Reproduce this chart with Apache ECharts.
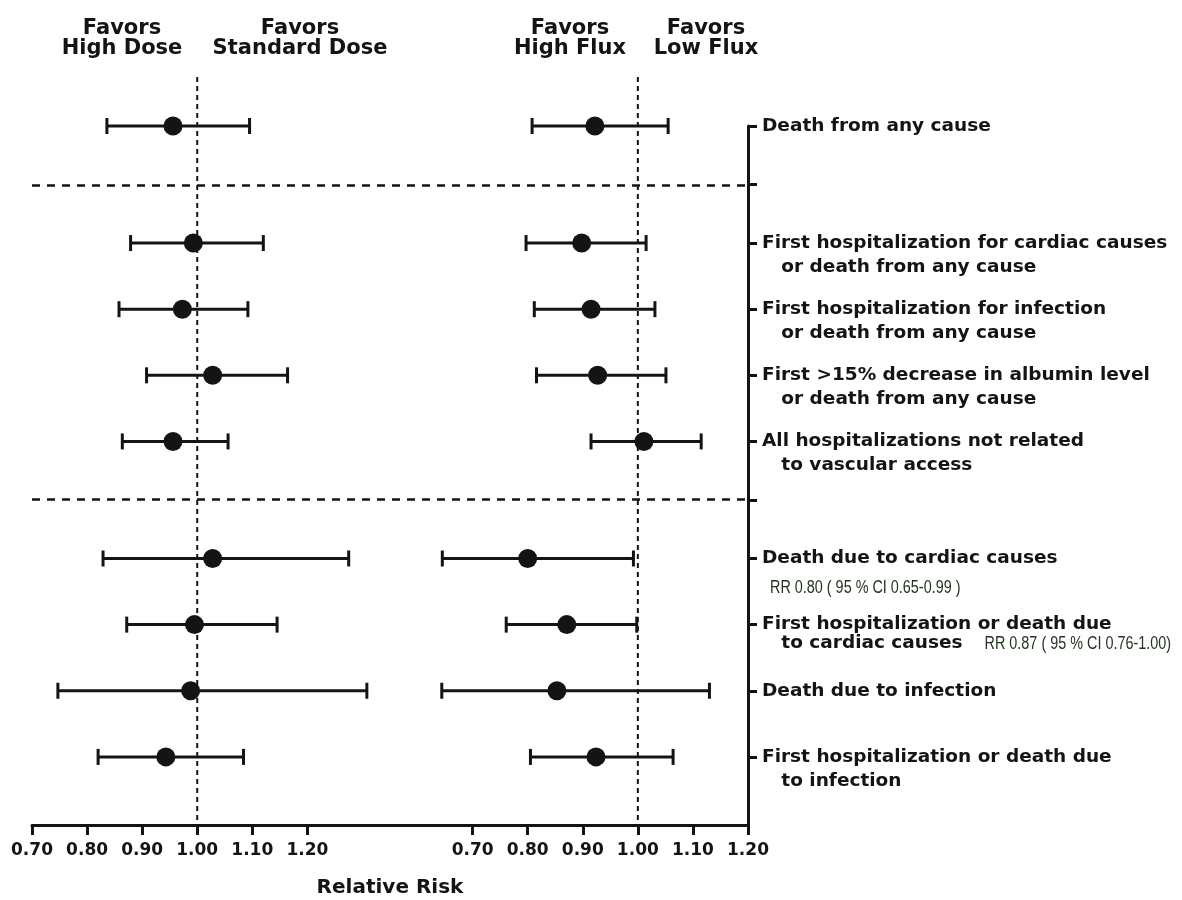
<!DOCTYPE html>
<html>
<head>
<meta charset="utf-8">
<title>Relative risk forest plot</title>
<script src="https://cdn.jsdelivr.net/npm/echarts@6/dist/echarts.min.js"></script>
<style>
  html, body { margin: 0; padding: 0; background: #fff; }
  #chart { width: 1182px; height: 900px; }
</style>
</head>
<body>
<div id="chart"></div>
<script>
// outcomes, top to bottom
const outcomes = [
  'Death from any cause',
  'First hospitalization for cardiac causes\nor death from any cause',
  'First hospitalization for infection\nor death from any cause',
  'First >15% decrease in albumin level\nor death from any cause',
  'All hospitalizations not related\nto vascular access',
  'Death due to cardiac causes',
  'First hospitalization or death due\nto cardiac causes',
  'Death due to infection',
  'First hospitalization or death due\nto infection'
];
const outcomeGroup = [0, 1, 1, 1, 1, 2, 2, 2, 2];
const rrNotes = ['', '', '', '', '', 'RR 0.80 ( 95 % CI 0.65-0.99 )', 'RR 0.87 ( 95 % CI 0.76-1.00)', '', ''];

// high dose vs standard dose
const doseRR   = [0.956, 0.993, 0.973, 1.028, 0.956, 1.028, 0.995, 0.988, 0.943];
const doseLow  = [0.836, 0.879, 0.858, 0.908, 0.864, 0.829, 0.872, 0.747, 0.820];
const doseHigh = [1.095, 1.120, 1.092, 1.164, 1.056, 1.275, 1.145, 1.308, 1.084];

// high flux vs low flux
const fluxRR   = [0.922, 0.898, 0.915, 0.927, 1.011, 0.800, 0.871, 0.853, 0.924];
const fluxLow  = [0.808, 0.797, 0.812, 0.816, 0.915, 0.645, 0.761, 0.644, 0.805];
const fluxHigh = [1.055, 1.015, 1.031, 1.051, 1.115, 0.992, 0.998, 1.130, 1.064];

const xTicks = [0.7, 0.8, 0.9, 1.0, 1.1, 1.2];
const NO_EFFECT = 1.0;

const INK = '#141414';
const FONT = 'DejaVu Sans';
const LABEL_SIZE = 18.5;
const LABEL_LINE = 24;
const TIGHT_LINE = 19;    // the row with the inline note is set tighter
const LABEL_MARGIN = 14;
const GROUP_GAP = 0.77;   // extra space between outcome groups
const X0_MAX = 2.0;
const Y_MAX = 10.57;
const REF_TOP = -0.74;    // reference lines start above the first row
const INDENT = '   ';

// row positions on the y axis
const rowPos = outcomes.map((_, i) => i + outcomeGroup[i] * GROUP_GAP);
const sepPos = [];
for (let i = 1; i < rowPos.length; i++) {
  if (outcomeGroup[i] !== outcomeGroup[i - 1]) sepPos.push((rowPos[i] + rowPos[i - 1]) / 2);
}

const measureCtx = document.createElement('canvas').getContext('2d');
measureCtx.font = 'bold ' + LABEL_SIZE + 'px "' + FONT + '"';

function rowLabel(value) {
  const i = rowPos.findIndex(p => Math.abs(p - value) < 1e-6);
  if (i < 0) return '';
  const lines = outcomes[i].split('\n');
  if (lines.length === 1) return lines[0];
  // empty first line keeps the first text line centred on the tick
  if (rrNotes[i]) {
    return '{tight|}\n{tight|' + lines[0] + '}\n{tight|' + INDENT + lines[1] + '}';
  }
  return '\n' + lines[0] + '\n' + INDENT + lines[1];
}

function renderErrorBar(params, api) {
  const y = api.value(2);
  const lo = api.coord([api.value(0), y]);
  const hi = api.coord([api.value(1), y]);
  const cap = 8;
  const style = { stroke: INK, lineWidth: 3 };
  return {
    type: 'group',
    children: [
      { type: 'line', shape: { x1: lo[0], y1: lo[1], x2: hi[0], y2: hi[1] }, style },
      { type: 'line', shape: { x1: lo[0], y1: lo[1] - cap, x2: lo[0], y2: lo[1] + cap }, style },
      { type: 'line', shape: { x1: hi[0], y1: hi[1] - cap, x2: hi[0], y2: hi[1] + cap }, style }
    ]
  };
}

function renderRefLine(params, api) {
  const p0 = api.coord([api.value(0), REF_TOP]);
  const p1 = api.coord([api.value(0), Y_MAX]);
  return {
    type: 'line',
    shape: { x1: p0[0], y1: p0[1], x2: p1[0], y2: p1[1] },
    style: { stroke: INK, lineWidth: 2, lineDash: [5, 4] }
  };
}

// RR notes sit next to / under the row labels
function renderNote(params, api) {
  const i = api.value(2);
  const p = api.coord([api.value(0), api.value(1)]);
  const lines = outcomes[i].split('\n');
  let x = p[0] + LABEL_MARGIN;
  let y = p[1];
  if (lines.length > 1) {
    x += measureCtx.measureText(INDENT + lines[1]).width + 22;
    y += TIGHT_LINE;
  } else {
    x += 8;
    y += 30;
  }
  return {
    type: 'text',
    x: x,
    y: y,
    scaleX: 0.8,
    style: {
      text: rrNotes[i],
      font: '18px "Liberation Sans"',
      fill: '#23361f',
      verticalAlign: 'middle'
    }
  };
}

function xAxisFor(min, max, showLine, extra) {
  return Object.assign({
    type: 'value',
    min: min,
    max: max,
    position: 'bottom',
    splitLine: { show: false },
    axisLine: { show: showLine, onZero: false, lineStyle: { color: INK, width: 3 } },
    axisTick: { show: true, customValues: xTicks, length: 10, lineStyle: { color: INK, width: 3 } },
    axisLabel: {
      customValues: xTicks,
      formatter: v => v.toFixed(2),
      color: INK, fontFamily: FONT, fontWeight: 'bold', fontSize: 17, margin: 17
    }
  }, extra || {});
}

const errorSeries = (low, high, axis) => ({
  type: 'custom',
  xAxisIndex: axis,
  clip: false,
  renderItem: renderErrorBar,
  encode: { x: [0, 1], y: 2 },
  data: low.map((v, i) => [v, high[i], rowPos[i]]),
  z: 3
});

const pointSeries = (rr, axis) => ({
  type: 'scatter',
  xAxisIndex: axis,
  symbol: 'circle',
  symbolSize: 19,
  itemStyle: { color: INK, opacity: 1 },
  data: rr.map((v, i) => [v, rowPos[i]]),
  z: 4
});

const refSeries = axis => ({
  type: 'custom',
  xAxisIndex: axis,
  clip: false,
  renderItem: renderRefLine,
  encode: { x: 0 },
  data: [[NO_EFFECT]],
  z: 2
});

const noteData = [];
rrNotes.forEach((n, i) => { if (n) noteData.push([X0_MAX, rowPos[i], i]); });

const chart = echarts.init(document.getElementById('chart'));

chart.setOption({
  backgroundColor: '#fff',
  animation: false,
  grid: { left: 32, right: 434, top: 126, bottom: 75, outerBoundsMode: 'none' },
  xAxis: [
    xAxisFor(0.7, X0_MAX, true, {
      name: 'Relative Risk',
      nameLocation: 'middle',
      nameGap: 53,
      nameTextStyle: { color: INK, fontFamily: FONT, fontWeight: 'bold', fontSize: 20 }
    }),
    xAxisFor(-0.1, 1.2, false)
  ],
  yAxis: {
    type: 'value',
    inverse: true,
    min: 0,
    max: Y_MAX,
    position: 'right',
    splitLine: { show: false },
    axisLine: { show: true, onZero: false, lineStyle: { color: INK, width: 3 } },
    axisTick: { show: true, customValues: rowPos.concat(sepPos), length: 9, lineStyle: { color: INK, width: 3 } },
    axisLabel: {
      customValues: rowPos,
      formatter: rowLabel,
      align: 'left',
      margin: LABEL_MARGIN,
      color: INK,
      fontFamily: FONT,
      fontWeight: 'bold',
      fontSize: LABEL_SIZE,
      lineHeight: LABEL_LINE,
      rich: {
        tight: {
          color: INK,
          fontFamily: FONT,
          fontWeight: 'bold',
          fontSize: LABEL_SIZE,
          lineHeight: TIGHT_LINE
        }
      }
    }
  },
  graphic: [
    { text: 'Favors\nHigh Dose', x: 122 },
    { text: 'Favors\nStandard Dose', x: 300 },
    { text: 'Favors\nHigh Flux', x: 570 },
    { text: 'Favors\nLow Flux', x: 706 }
  ].map(h => ({
    type: 'text',
    x: h.x,
    y: 19,
    style: {
      text: h.text,
      align: 'center',
      verticalAlign: 'top',
      fill: INK,
      font: 'bold 21px "DejaVu Sans"',
      lineHeight: 20
    }
  })),
  series: [
    refSeries(0),
    refSeries(1),
    errorSeries(doseLow, doseHigh, 0),
    errorSeries(fluxLow, fluxHigh, 1),
    Object.assign(pointSeries(doseRR, 0), {
      markLine: {
        silent: true,
        symbol: 'none',
        label: { show: false },
        lineStyle: { color: INK, width: 2.5, type: [8, 7] },
        data: sepPos.map(p => ({ yAxis: p }))
      }
    }),
    pointSeries(fluxRR, 1),
    {
      type: 'custom',
      xAxisIndex: 0,
      clip: false,
      silent: true,
      renderItem: renderNote,
      encode: { x: 0, y: 1 },
      data: noteData
    }
  ]
});
</script>
</body>
</html>
